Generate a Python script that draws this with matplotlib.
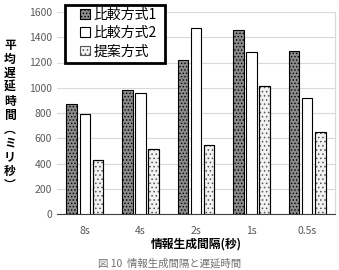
import numpy as np
import matplotlib.pyplot as plt
from matplotlib.patches import Rectangle

plt.rcParams['font.family'] = ['Noto Sans CJK JP', 'DejaVu Sans']
plt.rcParams['hatch.linewidth'] = 0.6

categories = ['8s', '4s', '2s', '1s', '0.5s']
series_names = ['比較方式1', '比較方式2', '提案方式']
hikaku1 = [870, 985, 1220, 1458, 1292]
hikaku2 = [795, 960, 1470, 1283, 915]
teian = [427, 513, 545, 1013, 648]

fig = plt.figure(figsize=(3.39, 2.70), dpi=100)
ax = fig.add_axes([57/339, 1 - 214/270, 278/339, 202/270])

x = np.arange(len(categories))
w = 0.19
step = 0.235
ax.bar(x - step, hikaku1, w, facecolor='#8a8a8a', edgecolor='black', hatch='.....',
       linewidth=0.8, label=series_names[0], zorder=3)
ax.bar(x, hikaku2, w, facecolor='white', edgecolor='black',
       linewidth=0.8, label=series_names[1], zorder=3)
ax.bar(x + step, teian, w, facecolor='#f2f2f2', edgecolor='#555555', hatch='....',
       linewidth=0.8, label=series_names[2], zorder=3)
# re-draw edges of third series in black
ax.bar(x + step, teian, w, facecolor='none', edgecolor='black', linewidth=0.8, zorder=4)

ax.set_xlim(-0.5, len(categories) - 0.5)
ax.set_ylim(0, 1600)
ax.set_yticks(range(0, 1601, 200))
ax.set_xticks(x)
ax.set_xticklabels(categories)
ax.tick_params(axis='both', length=0, labelsize=7.5, colors='#595959')
ax.tick_params(axis='x', pad=9)
ax.grid(axis='y', color='#d9d9d9', linewidth=0.8, zorder=0)
for s in ['left', 'top']:
    ax.spines[s].set_visible(False)
ax.spines['right'].set_color('#d9d9d9')
ax.spines['bottom'].set_color('#404040')

ax.set_xlabel('情報生成間隔(秒)', fontsize=8.5, fontweight='bold', labelpad=1)
fig.text(10/339, 1 - 115/270, '\n'.join('平均遅延時間︵ミリ秒︶'), fontsize=8.5,
         fontweight='bold', ha='center', va='center', linespacing=1.1)

# legend box drawn separately (wider padding than the legend frame allows)
fig.patches.append(Rectangle((65/339, 1 - 63/270), 100/339, 58/270,
                             transform=fig.transFigure, facecolor='white',
                             edgecolor='black', linewidth=2, zorder=5))
leg = fig.legend(loc='upper left', bbox_to_anchor=(80/339, 1 - 8/270), fontsize=10,
                 frameon=False, handlelength=0.7, handleheight=0.7,
                 handletextpad=0.3, borderpad=0, labelspacing=0.3, borderaxespad=0)
leg.set_zorder(6)

fig.text(170/339, 1/270, '図 10  情報生成間隔と遅延時間', fontsize=7.5,
         color='#707070', ha='center', va='bottom')

fig.savefig('out.png', dpi=100)
